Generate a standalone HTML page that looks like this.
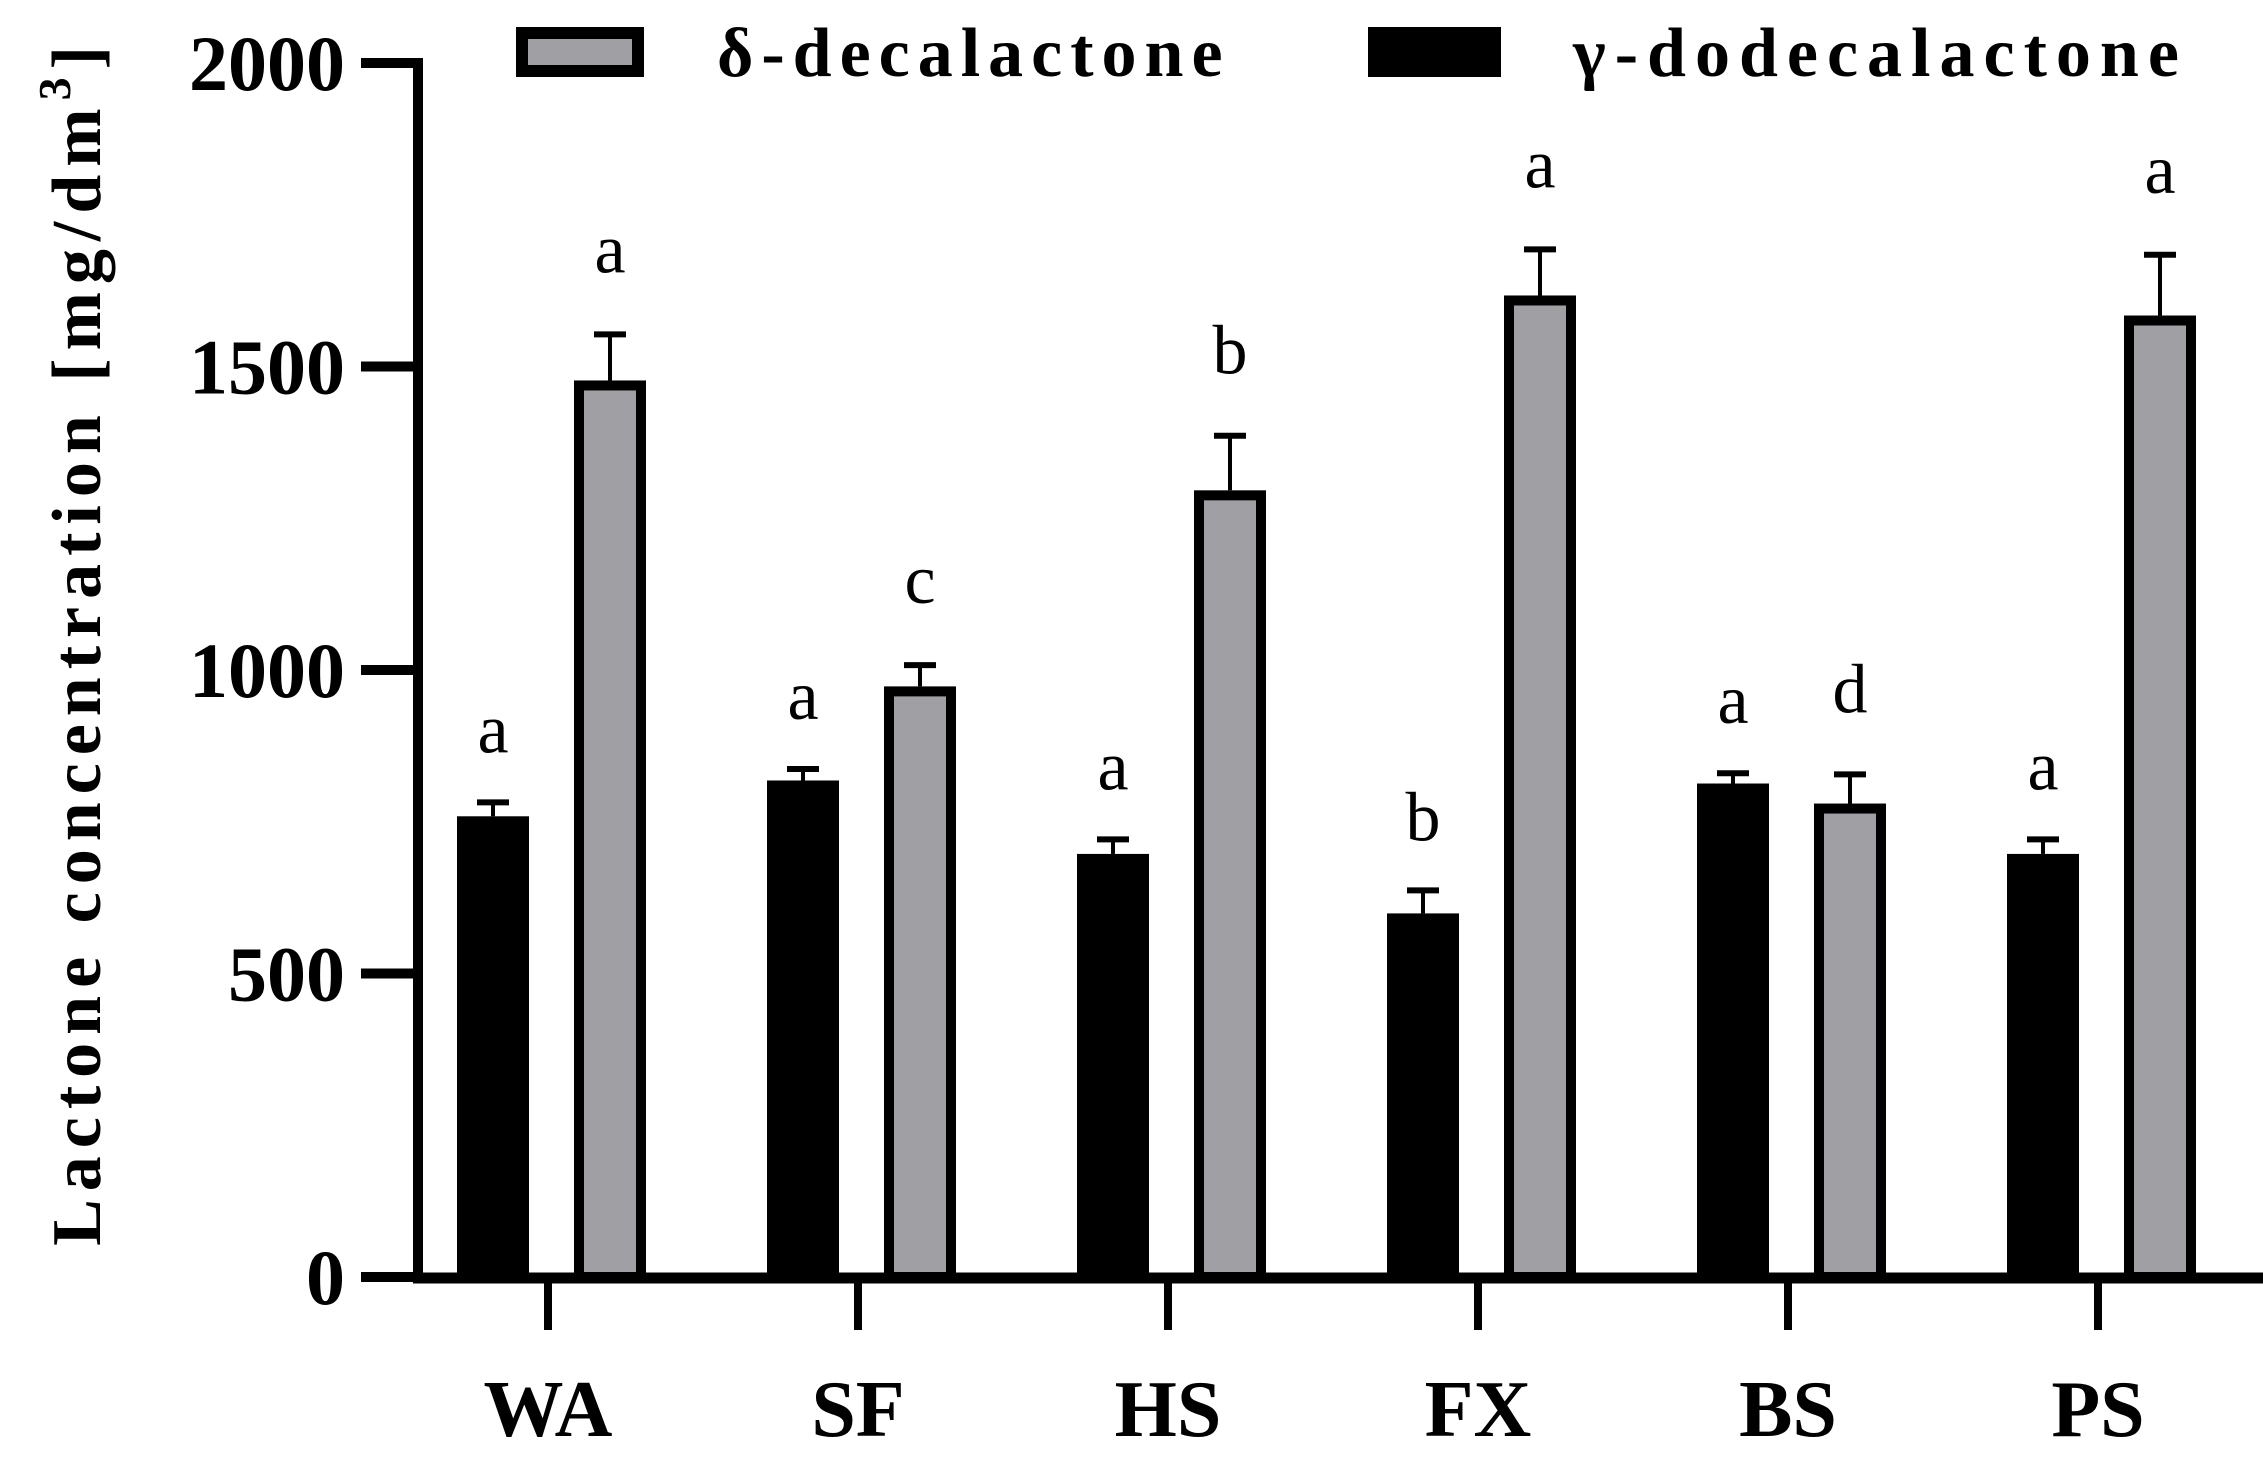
<!DOCTYPE html>
<html><head><meta charset="utf-8"><style>
html,body{margin:0;padding:0;background:#fff;}
svg{display:block;font-family:"Liberation Serif",serif;}
</style></head><body>
<svg id="chart" width="2263" height="1460" viewBox="0 0 2263 1460" xmlns="http://www.w3.org/2000/svg">
<text transform="translate(100,642) rotate(-90)" text-anchor="middle" font-size="70" font-weight="bold" letter-spacing="8">Lactone concentration [mg/dm<tspan font-size="46" dy="-30">3</tspan><tspan dy="30">]</tspan></text>
<g>
<rect x="522" y="33" width="116" height="38" fill="#a0a0a4" stroke="#000" stroke-width="12"/>
<text x="717" y="76" font-size="70" font-weight="bold" letter-spacing="8">δ-decalactone</text>
<rect x="1368" y="27" width="133" height="50" fill="#000"/>
<text x="1573" y="76" font-size="70" font-weight="bold" letter-spacing="9">γ-dodecalactone</text>
</g>
<g id="plot"></g>
</svg>
<script>
const categories=["WA","SF","HS","FX","BS","PS"];
const gammaValues=[759,818,697,599,813,697];
const gammaErrors=[23,19,24,38,17,24];
const deltaValues=[1477,973,1296,1617,780,1584];
const deltaErrors=[76,35,90,76,48,100];
const gammaLetters=["a","a","a","b","a","a"];
const deltaLetters=["a","c","b","a","d","a"];
const yTicks=[0,500,1000,1500,2000];

const NS="http://www.w3.org/2000/svg";
const g=document.getElementById('plot');
const y0=1277,yTop=63,vMax=2000;
function yScale(v){return y0-(v/vMax)*(y0-yTop);}
function xScale(i){return 548+i*310;}
function mk(tag,attrs,parent){const e=document.createElementNS(NS,tag);for(const k in attrs)e.setAttribute(k,attrs[k]);(parent||g).appendChild(e);return e;}

let ax=mk('line',{x1:418,y1:58,x2:418,y2:1283,stroke:'#000','stroke-width':10});


let xa=mk('line',{x1:413,y1:1278,x2:2263,y2:1278,stroke:'#000','stroke-width':11});



yTicks.forEach(t=>{
  const y=yScale(t);
  const l=mk('line',{x1:361,y1:y,x2:418,y2:y,stroke:'#000','stroke-width':10});
  
  
  const tx=mk('text',{x:345,y:y+27,'text-anchor':'end','font-size':78,'font-weight':'bold'});
  tx.textContent=t;
  
  
});

function errBar(cx,v,e,name){
  const yv=yScale(v),ye=yScale(v+e);
  const l=mk('line',{x1:cx,y1:yv,x2:cx,y2:ye,stroke:'#000','stroke-width':4});
  
  
  const c=mk('line',{x1:cx-16,y1:ye,x2:cx+16,y2:ye,stroke:'#000','stroke-width':6});
  
  
}

categories.forEach((c,i)=>{
  const cx=xScale(i);
  const tk=mk('line',{x1:cx,y1:1278,x2:cx,y2:1330,stroke:'#000','stroke-width':8});
  
  
  const lb=mk('text',{x:cx,y:1436,'text-anchor':'middle','font-size':80,'font-weight':'bold'});
  lb.textContent=c;
  
  

  const gx=cx-55,gw=72;
  let yb=yScale(gammaValues[i]);
  const b1=mk('rect',{x:gx-gw/2,y:yb,width:gw,height:y0-yb,fill:'#000'});
  
  
  errBar(gx,gammaValues[i],gammaErrors[i],'error-gamma-'+c);
  const t1=mk('text',{x:gx,y:yScale(gammaValues[i]+gammaErrors[i])-50,'text-anchor':'middle','font-size':70});
  t1.textContent=gammaLetters[i];
  
  

  const dx=cx+62,dw=62;
  let yd=yScale(deltaValues[i]);
  const b2=mk('rect',{x:dx-dw/2,y:yd+5,width:dw,height:y0-yd-5,fill:'#a0a0a4',stroke:'#000','stroke-width':10});
  
  
  errBar(dx,deltaValues[i],deltaErrors[i],'error-delta-'+c);
  const t2=mk('text',{x:dx,y:yScale(deltaValues[i]+deltaErrors[i])-62,'text-anchor':'middle','font-size':70});
  t2.textContent=deltaLetters[i];
  
  
});
</script>
</body></html>
